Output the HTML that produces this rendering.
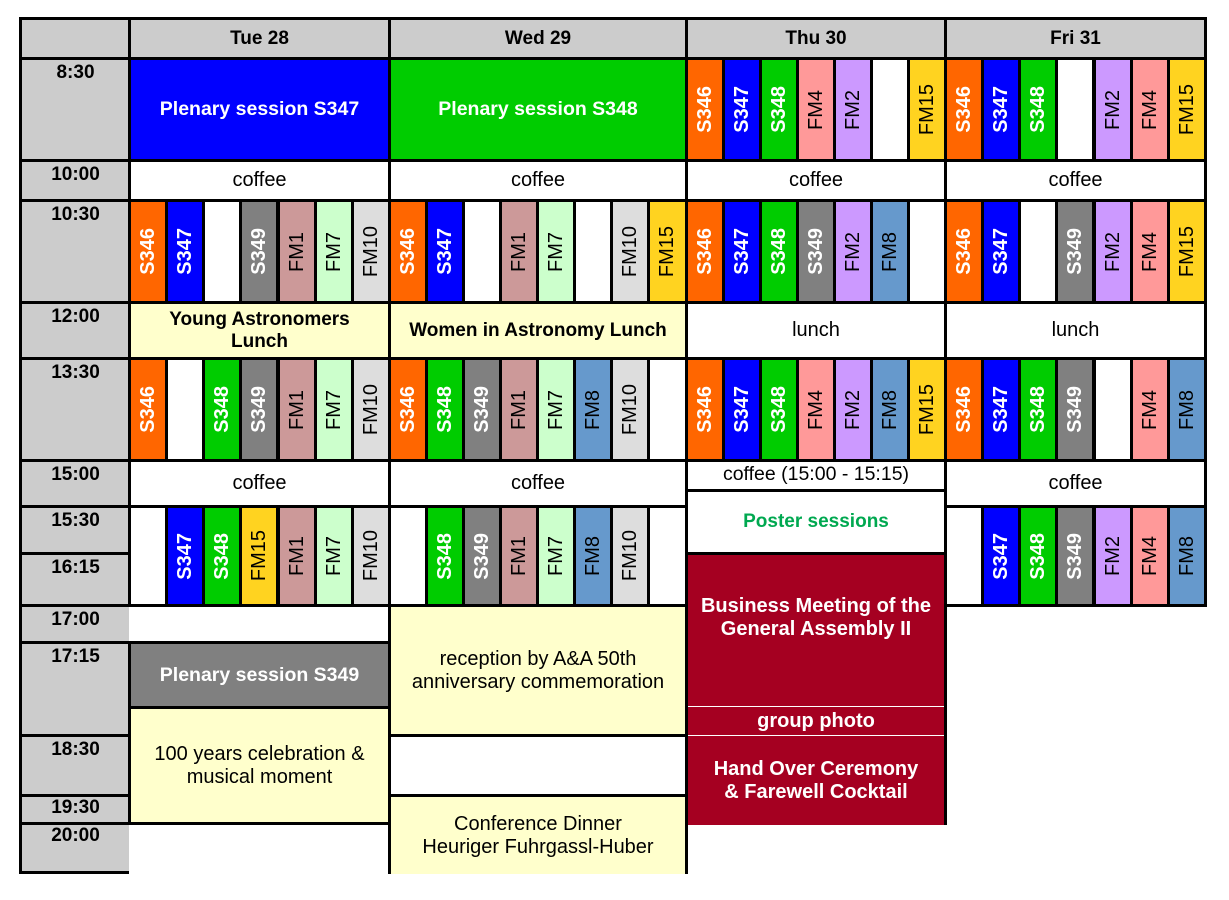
<!DOCTYPE html>
<html><head><meta charset="utf-8"><style>
body{margin:0;background:#fff;width:1229px;height:900px;position:relative;overflow:hidden;font-family:"Liberation Sans",sans-serif}
.c{position:absolute;box-sizing:border-box;border:3px solid #000;display:flex;align-items:center;justify-content:center;text-align:center;color:#000}
.t{background:#ccc;font-weight:bold;font-size:19px;align-items:flex-start;padding-top:2px}
.h{background:#ccc;font-weight:bold;font-size:19px}
.w{background:#fff;font-size:20px}
.y{background:#ffffcc;font-size:20px;line-height:23px}
.b{font-weight:bold}
.s{width:40px}
.s span{writing-mode:vertical-rl;transform:rotate(180deg);font-size:20px}
.S{font-weight:bold;color:#fff}
.o{background:#ff6600}.bl{background:#0000ff}.g{background:#00cc00}.gr{background:#808080}
.f1{background:#cc9999}.f7{background:#ccffcc}.f10{background:#dddddd}.f15{background:#ffd320}
.f4{background:#ff9999}.f2{background:#cc99ff}.f8{background:#6699cc}.e{background:#fff}
.r1{top:57px;height:105px}.r2{top:199px;height:105px}.r3{top:357px;height:105px}.r4{top:505px;height:102px}
.red{background:#a50021;color:#fff;font-weight:bold;font-size:20px;line-height:23px;border-color:#000}
</style></head><body>
<div class="c h" style="left:19px;top:17px;width:113px;height:43px"></div>
<div class="c h" style="left:128px;top:17px;width:263px;height:43px">Tue 28</div>
<div class="c h" style="left:388px;top:17px;width:300px;height:43px">Wed 29</div>
<div class="c h" style="left:685px;top:17px;width:262px;height:43px">Thu 30</div>
<div class="c h" style="left:944px;top:17px;width:263px;height:43px">Fri 31</div>
<div class="c t" style="left:19px;top:57px;width:113px;height:105px">8:30</div>
<div class="c t" style="left:19px;top:159px;width:113px;height:43px">10:00</div>
<div class="c t" style="left:19px;top:199px;width:113px;height:105px">10:30</div>
<div class="c t" style="left:19px;top:301px;width:113px;height:59px">12:00</div>
<div class="c t" style="left:19px;top:357px;width:113px;height:105px">13:30</div>
<div class="c t" style="left:19px;top:459px;width:113px;height:49px">15:00</div>
<div class="c t" style="left:19px;top:505px;width:113px;height:50px">15:30</div>
<div class="c t" style="left:19px;top:552px;width:113px;height:55px">16:15</div>
<div class="c t" style="left:19px;top:604px;width:113px;height:40px">17:00</div>
<div class="c t" style="left:19px;top:641px;width:113px;height:96px">17:15</div>
<div class="c t" style="left:19px;top:734px;width:113px;height:63px">18:30</div>
<div class="c t" style="left:19px;top:794px;width:113px;height:31px;padding-top:0">19:30</div>
<div class="c t" style="left:19px;top:822px;width:110px;height:52px;border-right:none;padding-top:0">20:00</div>
<div class="c b bl" style="left:128px;top:57px;width:263px;height:105px;color:#fff;font-size:19.5px">Plenary session S347</div>
<div class="c b g" style="left:388px;top:57px;width:300px;height:105px;color:#fff;font-size:19.5px">Plenary session S348</div>
<div class="c s r1 o" style="left:685px"><span class="S">S346</span></div>
<div class="c s r1 bl" style="left:722px"><span class="S">S347</span></div>
<div class="c s r1 g" style="left:759px"><span class="S">S348</span></div>
<div class="c s r1 f4" style="left:796px"><span>FM4</span></div>
<div class="c s r1 f2" style="left:833px"><span>FM2</span></div>
<div class="c s r1 e" style="left:870px"></div>
<div class="c s r1 f15" style="left:907px"><span>FM15</span></div>
<div class="c s r1 o" style="left:944px"><span class="S">S346</span></div>
<div class="c s r1 bl" style="left:981px"><span class="S">S347</span></div>
<div class="c s r1 g" style="left:1018px"><span class="S">S348</span></div>
<div class="c s r1 e" style="left:1055px"></div>
<div class="c s r1 f2" style="left:1093px"><span>FM2</span></div>
<div class="c s r1 f4" style="left:1130px"><span>FM4</span></div>
<div class="c s r1 f15" style="left:1167px"><span>FM15</span></div>
<div class="c w" style="left:128px;top:159px;width:263px;height:43px">coffee</div>
<div class="c w" style="left:388px;top:159px;width:300px;height:43px">coffee</div>
<div class="c w" style="left:685px;top:159px;width:262px;height:43px">coffee</div>
<div class="c w" style="left:944px;top:159px;width:263px;height:43px">coffee</div>
<div class="c s r2 o" style="left:128px"><span class="S">S346</span></div>
<div class="c s r2 bl" style="left:165px"><span class="S">S347</span></div>
<div class="c s r2 e" style="left:202px"></div>
<div class="c s r2 gr" style="left:239px"><span class="S">S349</span></div>
<div class="c s r2 f1" style="left:277px"><span>FM1</span></div>
<div class="c s r2 f7" style="left:314px"><span>FM7</span></div>
<div class="c s r2 f10" style="left:351px"><span>FM10</span></div>
<div class="c s r2 o" style="left:388px"><span class="S">S346</span></div>
<div class="c s r2 bl" style="left:425px"><span class="S">S347</span></div>
<div class="c s r2 e" style="left:462px"></div>
<div class="c s r2 f1" style="left:499px"><span>FM1</span></div>
<div class="c s r2 f7" style="left:536px"><span>FM7</span></div>
<div class="c s r2 e" style="left:573px"></div>
<div class="c s r2 f10" style="left:610px"><span>FM10</span></div>
<div class="c s r2 f15" style="left:647px;width:41px"><span>FM15</span></div>
<div class="c s r2 o" style="left:685px"><span class="S">S346</span></div>
<div class="c s r2 bl" style="left:722px"><span class="S">S347</span></div>
<div class="c s r2 g" style="left:759px"><span class="S">S348</span></div>
<div class="c s r2 gr" style="left:796px"><span class="S">S349</span></div>
<div class="c s r2 f2" style="left:833px"><span>FM2</span></div>
<div class="c s r2 f8" style="left:870px"><span>FM8</span></div>
<div class="c s r2 e" style="left:907px"></div>
<div class="c s r2 o" style="left:944px"><span class="S">S346</span></div>
<div class="c s r2 bl" style="left:981px"><span class="S">S347</span></div>
<div class="c s r2 e" style="left:1018px"></div>
<div class="c s r2 gr" style="left:1055px"><span class="S">S349</span></div>
<div class="c s r2 f2" style="left:1093px"><span>FM2</span></div>
<div class="c s r2 f4" style="left:1130px"><span>FM4</span></div>
<div class="c s r2 f15" style="left:1167px"><span>FM15</span></div>
<div class="c y b" style="left:128px;top:301px;width:263px;height:59px;font-size:19px;line-height:22px">Young Astronomers<br>Lunch</div>
<div class="c y b" style="left:388px;top:301px;width:300px;height:59px;font-size:19px">Women in Astronomy Lunch</div>
<div class="c w" style="left:685px;top:301px;width:262px;height:59px">lunch</div>
<div class="c w" style="left:944px;top:301px;width:263px;height:59px">lunch</div>
<div class="c s r3 o" style="left:128px"><span class="S">S346</span></div>
<div class="c s r3 e" style="left:165px"></div>
<div class="c s r3 g" style="left:202px"><span class="S">S348</span></div>
<div class="c s r3 gr" style="left:239px"><span class="S">S349</span></div>
<div class="c s r3 f1" style="left:277px"><span>FM1</span></div>
<div class="c s r3 f7" style="left:314px"><span>FM7</span></div>
<div class="c s r3 f10" style="left:351px"><span>FM10</span></div>
<div class="c s r3 o" style="left:388px"><span class="S">S346</span></div>
<div class="c s r3 g" style="left:425px"><span class="S">S348</span></div>
<div class="c s r3 gr" style="left:462px"><span class="S">S349</span></div>
<div class="c s r3 f1" style="left:499px"><span>FM1</span></div>
<div class="c s r3 f7" style="left:536px"><span>FM7</span></div>
<div class="c s r3 f8" style="left:573px"><span>FM8</span></div>
<div class="c s r3 f10" style="left:610px"><span>FM10</span></div>
<div class="c s r3 e" style="left:647px;width:41px"></div>
<div class="c s r3 o" style="left:685px"><span class="S">S346</span></div>
<div class="c s r3 bl" style="left:722px"><span class="S">S347</span></div>
<div class="c s r3 g" style="left:759px"><span class="S">S348</span></div>
<div class="c s r3 f4" style="left:796px"><span>FM4</span></div>
<div class="c s r3 f2" style="left:833px"><span>FM2</span></div>
<div class="c s r3 f8" style="left:870px"><span>FM8</span></div>
<div class="c s r3 f15" style="left:907px"><span>FM15</span></div>
<div class="c s r3 o" style="left:944px"><span class="S">S346</span></div>
<div class="c s r3 bl" style="left:981px"><span class="S">S347</span></div>
<div class="c s r3 g" style="left:1018px"><span class="S">S348</span></div>
<div class="c s r3 gr" style="left:1055px"><span class="S">S349</span></div>
<div class="c s r3 e" style="left:1093px"></div>
<div class="c s r3 f4" style="left:1130px"><span>FM4</span></div>
<div class="c s r3 f8" style="left:1167px"><span>FM8</span></div>
<div class="c w" style="left:128px;top:459px;width:263px;height:49px">coffee</div>
<div class="c w" style="left:388px;top:459px;width:300px;height:49px">coffee</div>
<div class="c w" style="left:685px;top:459px;width:262px;height:33px;font-size:19.5px;align-items:flex-start;line-height:25px">coffee (15:00 - 15:15)</div>
<div class="c w" style="left:944px;top:459px;width:263px;height:49px">coffee</div>
<div class="c w b" style="left:685px;top:489px;width:262px;height:66px;color:#00a850;font-size:19px">Poster sessions</div>
<div class="c s r4 e" style="left:128px"></div>
<div class="c s r4 bl" style="left:165px"><span class="S">S347</span></div>
<div class="c s r4 g" style="left:202px"><span class="S">S348</span></div>
<div class="c s r4 f15" style="left:239px"><span>FM15</span></div>
<div class="c s r4 f1" style="left:277px"><span>FM1</span></div>
<div class="c s r4 f7" style="left:314px"><span>FM7</span></div>
<div class="c s r4 f10" style="left:351px"><span>FM10</span></div>
<div class="c s r4 e" style="left:388px"></div>
<div class="c s r4 g" style="left:425px"><span class="S">S348</span></div>
<div class="c s r4 gr" style="left:462px"><span class="S">S349</span></div>
<div class="c s r4 f1" style="left:499px"><span>FM1</span></div>
<div class="c s r4 f7" style="left:536px"><span>FM7</span></div>
<div class="c s r4 f8" style="left:573px"><span>FM8</span></div>
<div class="c s r4 f10" style="left:610px"><span>FM10</span></div>
<div class="c s r4 e" style="left:647px;width:41px"></div>
<div class="c s r4 e" style="left:944px"></div>
<div class="c s r4 bl" style="left:981px"><span class="S">S347</span></div>
<div class="c s r4 g" style="left:1018px"><span class="S">S348</span></div>
<div class="c s r4 gr" style="left:1055px"><span class="S">S349</span></div>
<div class="c s r4 f2" style="left:1093px"><span>FM2</span></div>
<div class="c s r4 f4" style="left:1130px"><span>FM4</span></div>
<div class="c s r4 f8" style="left:1167px"><span>FM8</span></div>
<div class="c red" style="left:685px;top:552px;width:262px;height:273px;border-bottom:none"></div>
<div class="c red" style="left:688px;top:555px;width:256px;height:151px;border:none;padding-bottom:26px">Business Meeting of the<br>General Assembly II</div>
<div style="position:absolute;left:688px;top:706px;width:256px;height:1px;background:#fff"></div>
<div class="c red" style="left:688px;top:707px;width:256px;height:28px;border:none">group photo</div>
<div style="position:absolute;left:688px;top:735px;width:256px;height:1px;background:#fff"></div>
<div class="c red" style="left:688px;top:736px;width:256px;height:87px;border:none;padding-top:2px">Hand Over Ceremony<br>&amp; Farewell Cocktail</div>
<div class="c w" style="left:129px;top:604px;width:262px;height:40px;border-left:none"></div>
<div class="c b" style="left:128px;top:641px;width:263px;height:68px;background:#808080;color:#fff;font-size:19.5px">Plenary session S349</div>
<div class="c y" style="left:128px;top:706px;width:263px;height:119px">100 years celebration &amp;<br>musical moment</div>
<div class="c y" style="left:388px;top:604px;width:300px;height:133px">reception by A&amp;A 50th<br>anniversary commemoration</div>
<div class="c w" style="left:388px;top:734px;width:300px;height:63px"></div>
<div class="c y" style="left:388px;top:794px;width:300px;height:80px;border-bottom:none">Conference Dinner<br>Heuriger Fuhrgassl-Huber</div>
</body></html>
